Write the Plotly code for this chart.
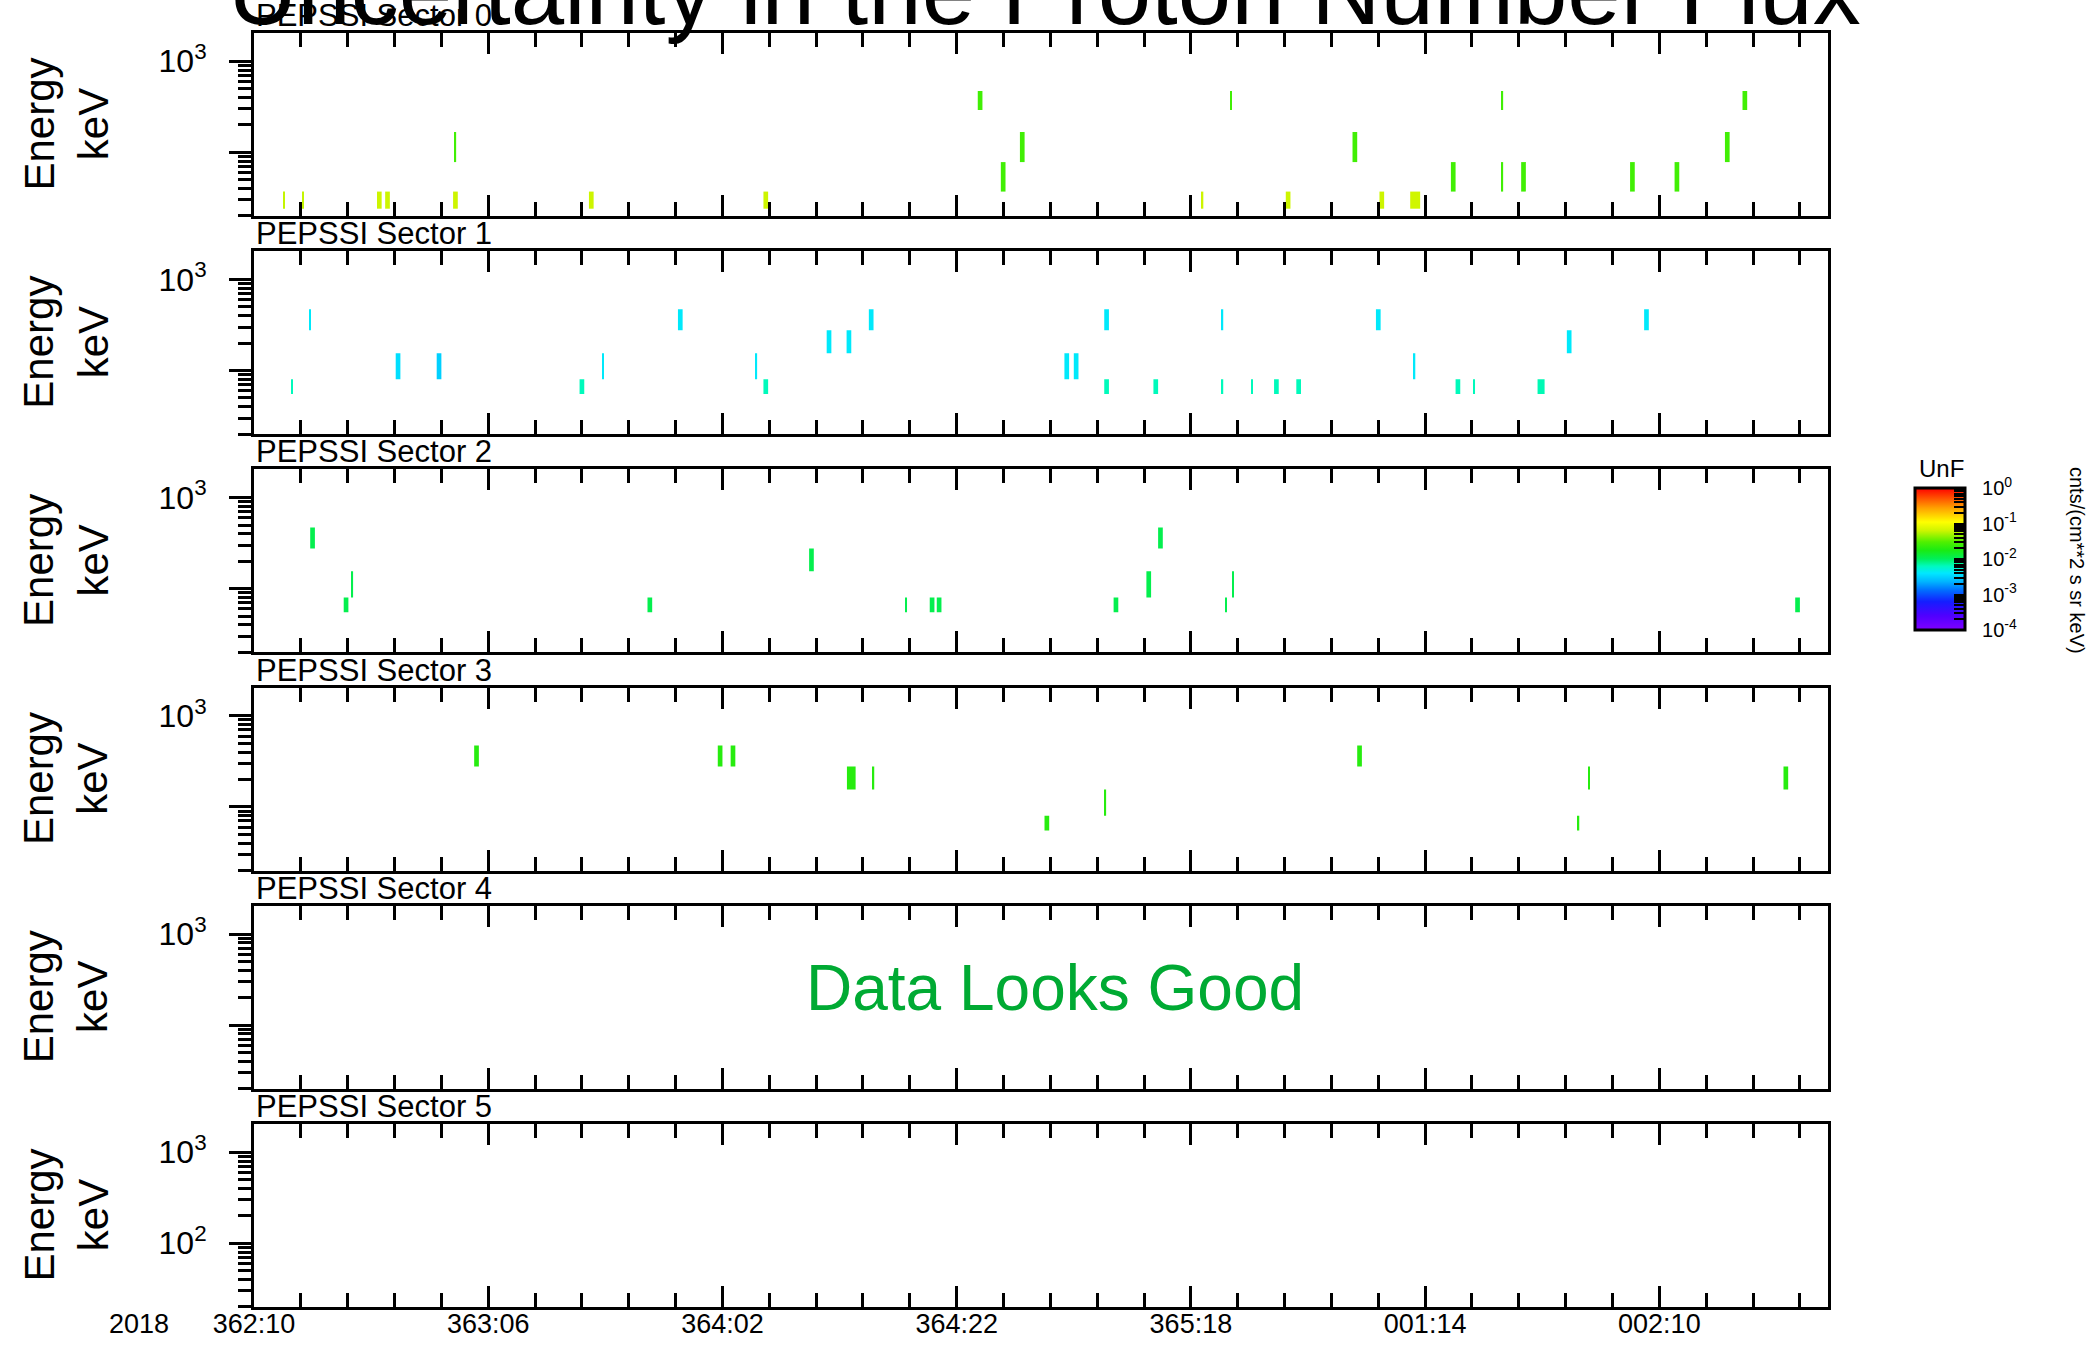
import numpy as np
import plotly.graph_objects as go
from plotly.subplots import make_subplots

# ---- time axis: hours after 2018 day 362, 10:00 UT ----
T_START, T_END = 0.0, 134.4
MAJOR_HOURS = [0, 20, 40, 60, 80, 100, 120]
MAJOR_LABELS = ["362:10", "363:06", "364:02", "364:22", "365:18", "001:14", "002:10"]
YEAR_LABEL = "2018"

# ---- energy channels (keV): low/high edge of each channel ----
S0_CHANNELS = [(24, 37), (37, 78), (78, 167), (291, 471)]
CHANNELS = [(55, 80), (80, 155), (155, 277), (277, 471)]

THIN, MED = 0.12, 0.4

# ---- Sector 0: centre time (h), bin width (h), channel index, uncertainty ----
s0_time = [2.55, 4.17, 10.7, 11.4, 17.2, 17.2, 28.8, 43.7, 62.0, 63.97, 65.6,
           81.0, 83.4, 88.3, 94.0, 96.3, 99.15, 102.4, 106.6, 106.6, 108.4,
           117.7, 121.5, 125.8, 127.3]
s0_dur = [THIN, THIN, MED, MED, THIN, MED, MED, MED, MED, MED, MED,
          THIN, THIN, MED, MED, MED, 0.85, MED, THIN, THIN, MED,
          MED, MED, MED, MED]
s0_chan = [0, 0, 0, 0, 2, 0, 0, 0, 3, 1, 2,
           0, 3, 0, 2, 0, 0, 1, 3, 1, 1,
           1, 1, 2, 3]
s0_unc = [0.06, 0.06, 0.063, 0.063, 0.026, 0.063, 0.063, 0.063, 0.026, 0.026, 0.026,
          0.063, 0.026, 0.063, 0.026, 0.063, 0.065, 0.026, 0.026, 0.026, 0.026,
          0.026, 0.026, 0.026, 0.026]

# ---- Sector 1 ----
s1_time = [3.24, 4.8, 12.3, 15.8, 28.0, 29.8, 36.4, 42.9, 43.7, 49.1, 50.8, 52.7,
           69.4, 70.2, 72.8, 72.8, 77.0, 82.7, 82.7, 85.2, 87.3, 89.2, 96.0,
           99.1, 102.8, 104.2, 109.9, 112.3, 118.9]
s1_dur = [THIN, THIN, MED, MED, MED, THIN, MED, THIN, MED, MED, MED, MED,
          MED, MED, MED, MED, MED, THIN, THIN, THIN, MED, MED, MED,
          THIN, MED, THIN, 0.6, MED, MED]
s1_chan = [0, 3, 1, 1, 0, 1, 3, 1, 0, 2, 2, 3,
           1, 1, 3, 0, 0, 3, 0, 0, 0, 0, 3,
           1, 0, 0, 0, 2, 3]
s1_unc = [0.0064, 0.0041, 0.0036, 0.0031, 0.0064, 0.0041, 0.0041, 0.0041, 0.0064, 0.0041,
          0.0041, 0.0041, 0.0041, 0.0041, 0.0041, 0.0064, 0.0064, 0.0041, 0.0064, 0.0064,
          0.0064, 0.0064, 0.0041, 0.0041, 0.0064, 0.0064, 0.0066, 0.0041, 0.0041]

# ---- Sector 2 ----
s2_time = [5.0, 7.86, 8.4, 33.8, 47.6, 55.7, 57.9, 58.5, 73.6, 76.4, 77.4, 83.0, 83.6, 131.8]
s2_dur = [MED, MED, THIN, MED, MED, THIN, MED, MED, MED, MED, MED, THIN, THIN, MED]
s2_chan = [3, 0, 1, 0, 2, 0, 0, 0, 0, 1, 3, 0, 1, 0]
s2_unc = [0.011, 0.011, 0.011, 0.011, 0.011, 0.011, 0.011,
          0.011, 0.011, 0.011, 0.011, 0.011, 0.011, 0.011]

# ---- Sector 3 ----
s3_time = [19.0, 39.8, 40.9, 51.0, 52.9, 67.7, 72.7, 94.4, 113.1, 114.0, 130.8]
s3_dur = [MED, MED, MED, 0.74, THIN, MED, THIN, MED, THIN, THIN, MED]
s3_chan = [3, 3, 3, 2, 2, 0, 1, 3, 0, 2, 2]
s3_unc = [0.02, 0.02, 0.02, 0.02, 0.02, 0.02, 0.02, 0.02, 0.02, 0.02, 0.02]

SECTORS = [
    (s0_time, s0_dur, s0_chan, s0_unc, S0_CHANNELS),
    (s1_time, s1_dur, s1_chan, s1_unc, CHANNELS),
    (s2_time, s2_dur, s2_chan, s2_unc, CHANNELS),
    (s3_time, s3_dur, s3_chan, s3_unc, CHANNELS),
    None,
    None,
]

# rainbow colour table, log10(uncertainty) from -4 to 0
RAINBOW = [
    [0.00, "rgb(128,0,255)"], [0.10, "rgb(80,0,255)"], [0.20, "rgb(20,30,255)"],
    [0.28, "rgb(0,110,255)"], [0.34, "rgb(0,180,255)"], [0.40, "rgb(0,232,255)"],
    [0.45, "rgb(0,250,190)"], [0.50, "rgb(0,240,90)"], [0.56, "rgb(25,235,20)"],
    [0.62, "rgb(80,240,0)"], [0.70, "rgb(205,245,0)"], [0.76, "rgb(255,255,0)"],
    [0.86, "rgb(255,160,0)"], [0.93, "rgb(255,80,0)"], [1.00, "rgb(255,0,0)"],
]

FONT = "Liberation Sans, Arial, Helvetica, sans-serif"
W, H = 2100, 1345
ML, MR, MT, MB = 254, 272, 33, 38
PW, PH = W - ML - MR, H - MT - MB

fig = make_subplots(rows=6, cols=1, vertical_spacing=35.2 / PH)

for row, sec in enumerate(SECTORS, start=1):
    if sec is None:
        # sector without flagged bins: keep its axes on the page
        fig.add_trace(go.Scatter(x=[], y=[], mode="markers", showlegend=False,
                                 hoverinfo="skip"), row=row, col=1)
        continue
    times, durs, chans, uncs, edges = sec
    lo = [edges[c][0] for c in chans]
    hi = [edges[c][1] for c in chans]
    fig.add_trace(
        go.Bar(
            x=times, width=durs, base=lo,
            y=[h - l for h, l in zip(hi, lo)],
            marker=dict(color=np.log10(uncs).tolist(), coloraxis="coloraxis",
                        line=dict(width=0)),
            showlegend=False, hoverinfo="skip",
        ),
        row=row, col=1,
    )

minor_y = [v * 10 ** p for p in (1, 2) for v in range(2, 10)]
for row in range(1, 7):
    last = row == 6
    fig.update_xaxes(
        row=row, col=1, range=[T_START, T_END], visible=True, automargin=False,
        tickmode="array", tickvals=MAJOR_HOURS, ticktext=MAJOR_LABELS,
        showticklabels=last, ticks="inside", ticklen=21, tickwidth=2.5,
        tickcolor="black", ticklabelstandoff=-9,
        minor=dict(tickmode="linear", tick0=0, dtick=4, ticks="inside",
                   ticklen=14, tickwidth=2.5, tickcolor="black"),
        showline=True, linewidth=3, linecolor="black", mirror="ticks",
        showgrid=False, zeroline=False,
        tickfont=dict(size=27, family=FONT, color="black"),
    )
    fig.update_yaxes(
        row=row, col=1, type="log", range=[1.30, 3.31], visible=True, automargin=False,
        tickmode="array", tickvals=[100, 1000],
        ticktext=["10<sup>2</sup>" if last else " ", "10<sup>3</sup>"],
        ticks="outside", ticklen=22, tickwidth=2.5, tickcolor="black",
        minor=dict(tickmode="array", tickvals=minor_y, ticks="outside",
                   ticklen=13, tickwidth=2.5, tickcolor="black"),
        showline=True, linewidth=3, linecolor="black", mirror=True,
        showgrid=False, zeroline=False,
        tickfont=dict(size=32, family=FONT, color="black"),
        ticklabelstandoff=16,
    )

# colour bar with decade labels and log sub-ticks
cb_vals, cb_text = [], []
for p in range(-4, 1):
    cb_vals.append(p)
    cb_text.append(f"&nbsp;&nbsp;10<sup>{p}</sup>")
    if p < 0:
        for k in range(2, 10):
            cb_vals.append(p + np.log10(k))
            cb_text.append(" ")

fig.update_layout(
    coloraxis=dict(
        colorscale=RAINBOW, cmin=-4, cmax=0,
        colorbar=dict(
            x=(1915 - ML) / PW, xanchor="left", xpad=0,
            y=1 - (559 - MT) / PH, yanchor="middle", ypad=0,
            len=142, lenmode="pixels", thickness=50, thicknessmode="pixels",
            outlinewidth=3, outlinecolor="black",
            tickmode="array", tickvals=cb_vals, ticktext=cb_text,
            ticks="inside", ticklen=12, tickwidth=1.5, tickcolor="black",
            tickfont=dict(size=20, family=FONT, color="black"),
        ),
    ),
)

annotations = []
for row in range(1, 7):
    yname = "yaxis" if row == 1 else f"yaxis{row}"
    d0, d1 = fig.layout[yname].domain
    annotations.append(dict(
        text=f"PEPSSI Sector {row - 1}", xref="paper", yref="paper",
        x=0, y=d1, xanchor="left", yanchor="bottom", yshift=-2, showarrow=False,
        font=dict(size=31, family=FONT, color="black"),
    ))
    annotations.append(dict(
        text="Energy<br>keV", xref="paper", yref="paper",
        x=(66 - ML) / PW, y=(d0 + d1) / 2, xanchor="center", yanchor="middle",
        textangle=-90, showarrow=False,
        font=dict(size=42, family=FONT, color="black"),
    ))

annotations += [
    dict(text="Data Looks Good", xref="x5 domain", yref="y5 domain",
         x=0.509, y=0.55, xanchor="center", yanchor="middle", showarrow=False,
         font=dict(size=64, family=FONT, color="#00aa33")),
    dict(text=YEAR_LABEL, xref="paper", yref="paper", x=(139 - ML) / PW, y=0,
         xanchor="center", yanchor="top", yshift=0, showarrow=False,
         font=dict(size=27, family=FONT, color="black")),
    dict(text="UnF", xref="paper", yref="paper", x=(1941 - ML) / PW,
         y=1 - (484 - MT) / PH, xanchor="center", yanchor="bottom", showarrow=False,
         font=dict(size=24, family=FONT, color="black")),
    dict(text="cnts/(cm**2 s sr keV)", xref="paper", yref="paper",
         x=(2077 - ML) / PW, y=1 - (560 - MT) / PH, xanchor="center", yanchor="middle",
         textangle=90, showarrow=False,
         font=dict(size=20, family=FONT, color="black")),
    dict(text="Uncertainty in the Proton Number Flux", xref="paper", yref="paper",
         x=0.502, y=1 + (MT + 9) / PH, xanchor="center", yanchor="middle",
         showarrow=False, font=dict(size=96, family=FONT, color="black")),
]

fig.update_layout(
    width=W, height=H,
    margin=dict(l=ML, r=MR, t=MT, b=MB, autoexpand=False),
    paper_bgcolor="white", plot_bgcolor="white",
    barmode="overlay", showlegend=False,
    font=dict(family=FONT, color="black"),
    annotations=annotations,
)

fig.write_html("out.html")
